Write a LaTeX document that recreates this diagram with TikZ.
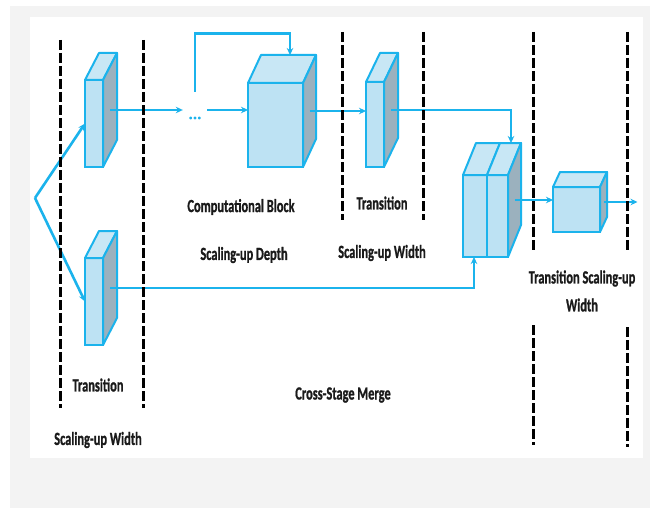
\documentclass[tikz,border=0pt]{standalone}
\usepackage{fontspec}
\setmainfont{Carlito}[BoldFeatures={FakeBold=1.2}]
\usetikzlibrary{arrows.meta,calc}
\definecolor{cyanline}{HTML}{1BB3EC}
\definecolor{frontfill}{HTML}{BDE2F3}
\definecolor{topfill}{HTML}{C8E7F5}
\definecolor{sidefill}{HTML}{9BB1BE}
\definecolor{bggrey}{HTML}{F3F3F3}
\definecolor{labelc}{HTML}{1A1A1A}
\tikzset{
  blk/.style={rectangle, draw=cyanline, fill=frontfill, line width=2pt, inner sep=0pt, outer sep=0pt},
  topf/.style={draw=cyanline, fill=topfill, line width=2pt, line join=round},
  sidef/.style={draw=cyanline, fill=sidefill, line width=2pt, line join=round},
  conn/.style={draw=cyanline, line width=2.6pt},
  arr/.style={conn, -{Stealth[length=7pt,width=6.5pt]}},
  lbl/.style={text=labelc, font=\fontsize{18.5}{28}\selectfont\bfseries, inner sep=0pt, align=center},
  divider/.style={draw=black, line width=3pt, dash pattern=on 10pt off 3pt},
}
\newcommand{\cubefaces}[3]{%
  \draw[topf] (#1.north west) -- ++(#2,#3) -- ($(#1.north east)+(#2,#3)$) -- (#1.north east) -- cycle;
  \draw[sidef] (#1.north east) -- ++(#2,#3) -- ($(#1.south east)+(#2,#3)$) -- (#1.south east) -- cycle;
  \coordinate (#1-s) at ($(#1.east)+(#2/2,#3/2)$);
}
\newcommand{\sq}[1]{\scalebox{0.67}[1]{#1}}
\begin{document}
\begin{tikzpicture}[x=1pt,y=-1pt]
\useasboundingbox (0,0) rectangle (652,508);
\fill[white] (0,0) rectangle (652,508);
\fill[bggrey] (10,6) rectangle (650,508);
\fill[white] (30,17) rectangle (643,458);

% blocks
\node[blk, minimum width=18pt, minimum height=87pt] (A) at (94,123.5) {};
\cubefaces{A}{14}{-27}
\node[blk, minimum width=18pt, minimum height=87pt] (B) at (94,301.5) {};
\cubefaces{B}{14}{-27}
\node[blk, minimum width=55pt, minimum height=84pt] (C) at (275.5,125) {};
\cubefaces{C}{13}{-28}
\node[blk, minimum width=18pt, minimum height=85pt] (D) at (375,124.5) {};
\cubefaces{D}{14}{-29}
\node[blk, minimum width=24pt, minimum height=82pt] (E1) at (475,216) {};
\draw[topf] (E1.north west) -- ++(13,-32) -- ($(E1.north east)+(13,-32)$) -- (E1.north east) -- cycle;
\node[blk, minimum width=21pt, minimum height=82pt] (E2) at (497.5,216) {};
\cubefaces{E2}{13}{-32}
\node[blk, minimum width=47pt, minimum height=45pt] (F) at (576.5,209.5) {};
\cubefaces{F}{7}{-15}

% dots
\node[text=cyanline, font=\fontsize{16}{18}\selectfont\bfseries, inner sep=0pt, minimum width=24pt] (dots) at (195,118) {...};

% connectors
\coordinate (split) at (35,198);
\draw[arr] (split) -- (A.west);
\draw[arr] (split) -- (B.west);
\draw[arr] (A-s) -- (A-s -| dots.west);
\draw[arr] (dots.east |- A-s) -- (A-s -| C.west);
\coordinate (CT) at ($(C.north)+(14.5,-28)$);
\draw[arr] ([yshift=25pt]dots.north) -- ++(0,-58) -| (CT);
\draw[arr] (C-s) -- (C-s -| D.west);
\coordinate (ET) at (511,143);
\draw[arr] (D-s) -| (ET);
\coordinate (EB) at ($(E1.south west)+(11,0)$);
\draw[arr] (B-s) -| (EB);
\draw[arr] (E2-s) -- (E2-s -| F.west);
\coordinate (out) at ($(F-s)+(34,0)$);
\draw[arr] (F-s) -- (out);

% labels
\node[lbl] (t1) at (241,207) {\sq{Computational Block}};
\node[lbl] (t2) at (244,255) {\sq{Scaling-up Depth}};
\node[lbl] (t3) at (382,203) {\sq{Transition}};
\node[lbl] (t4) at (382,253) {\sq{Scaling-up Width}};
\node[lbl] (t5) at (582,291) {\sq{Transition Scaling-up}\\\sq{Width}};
\node[lbl] (t6) at (98,385) {\sq{Transition}};
\node[lbl] (t7) at (98,440) {\sq{Scaling-up Width}};
\node[lbl] (t8) at (343,395) {\sq{Cross-Stage Merge}};

% dividers
\draw[divider] (60,40) -- (60,408);
\draw[divider] (143,40) -- (143,408);
\draw[divider] (342,32) -- (342,220);
\draw[divider] (423,32) -- (423,220);
\draw[divider] (533,32) -- (533,253);
\draw[divider] (533,325) -- (533,445);
\draw[divider] (627,32) -- (627,253);
\draw[divider] (627,327) -- (627,447);
\end{tikzpicture}
\end{document}
